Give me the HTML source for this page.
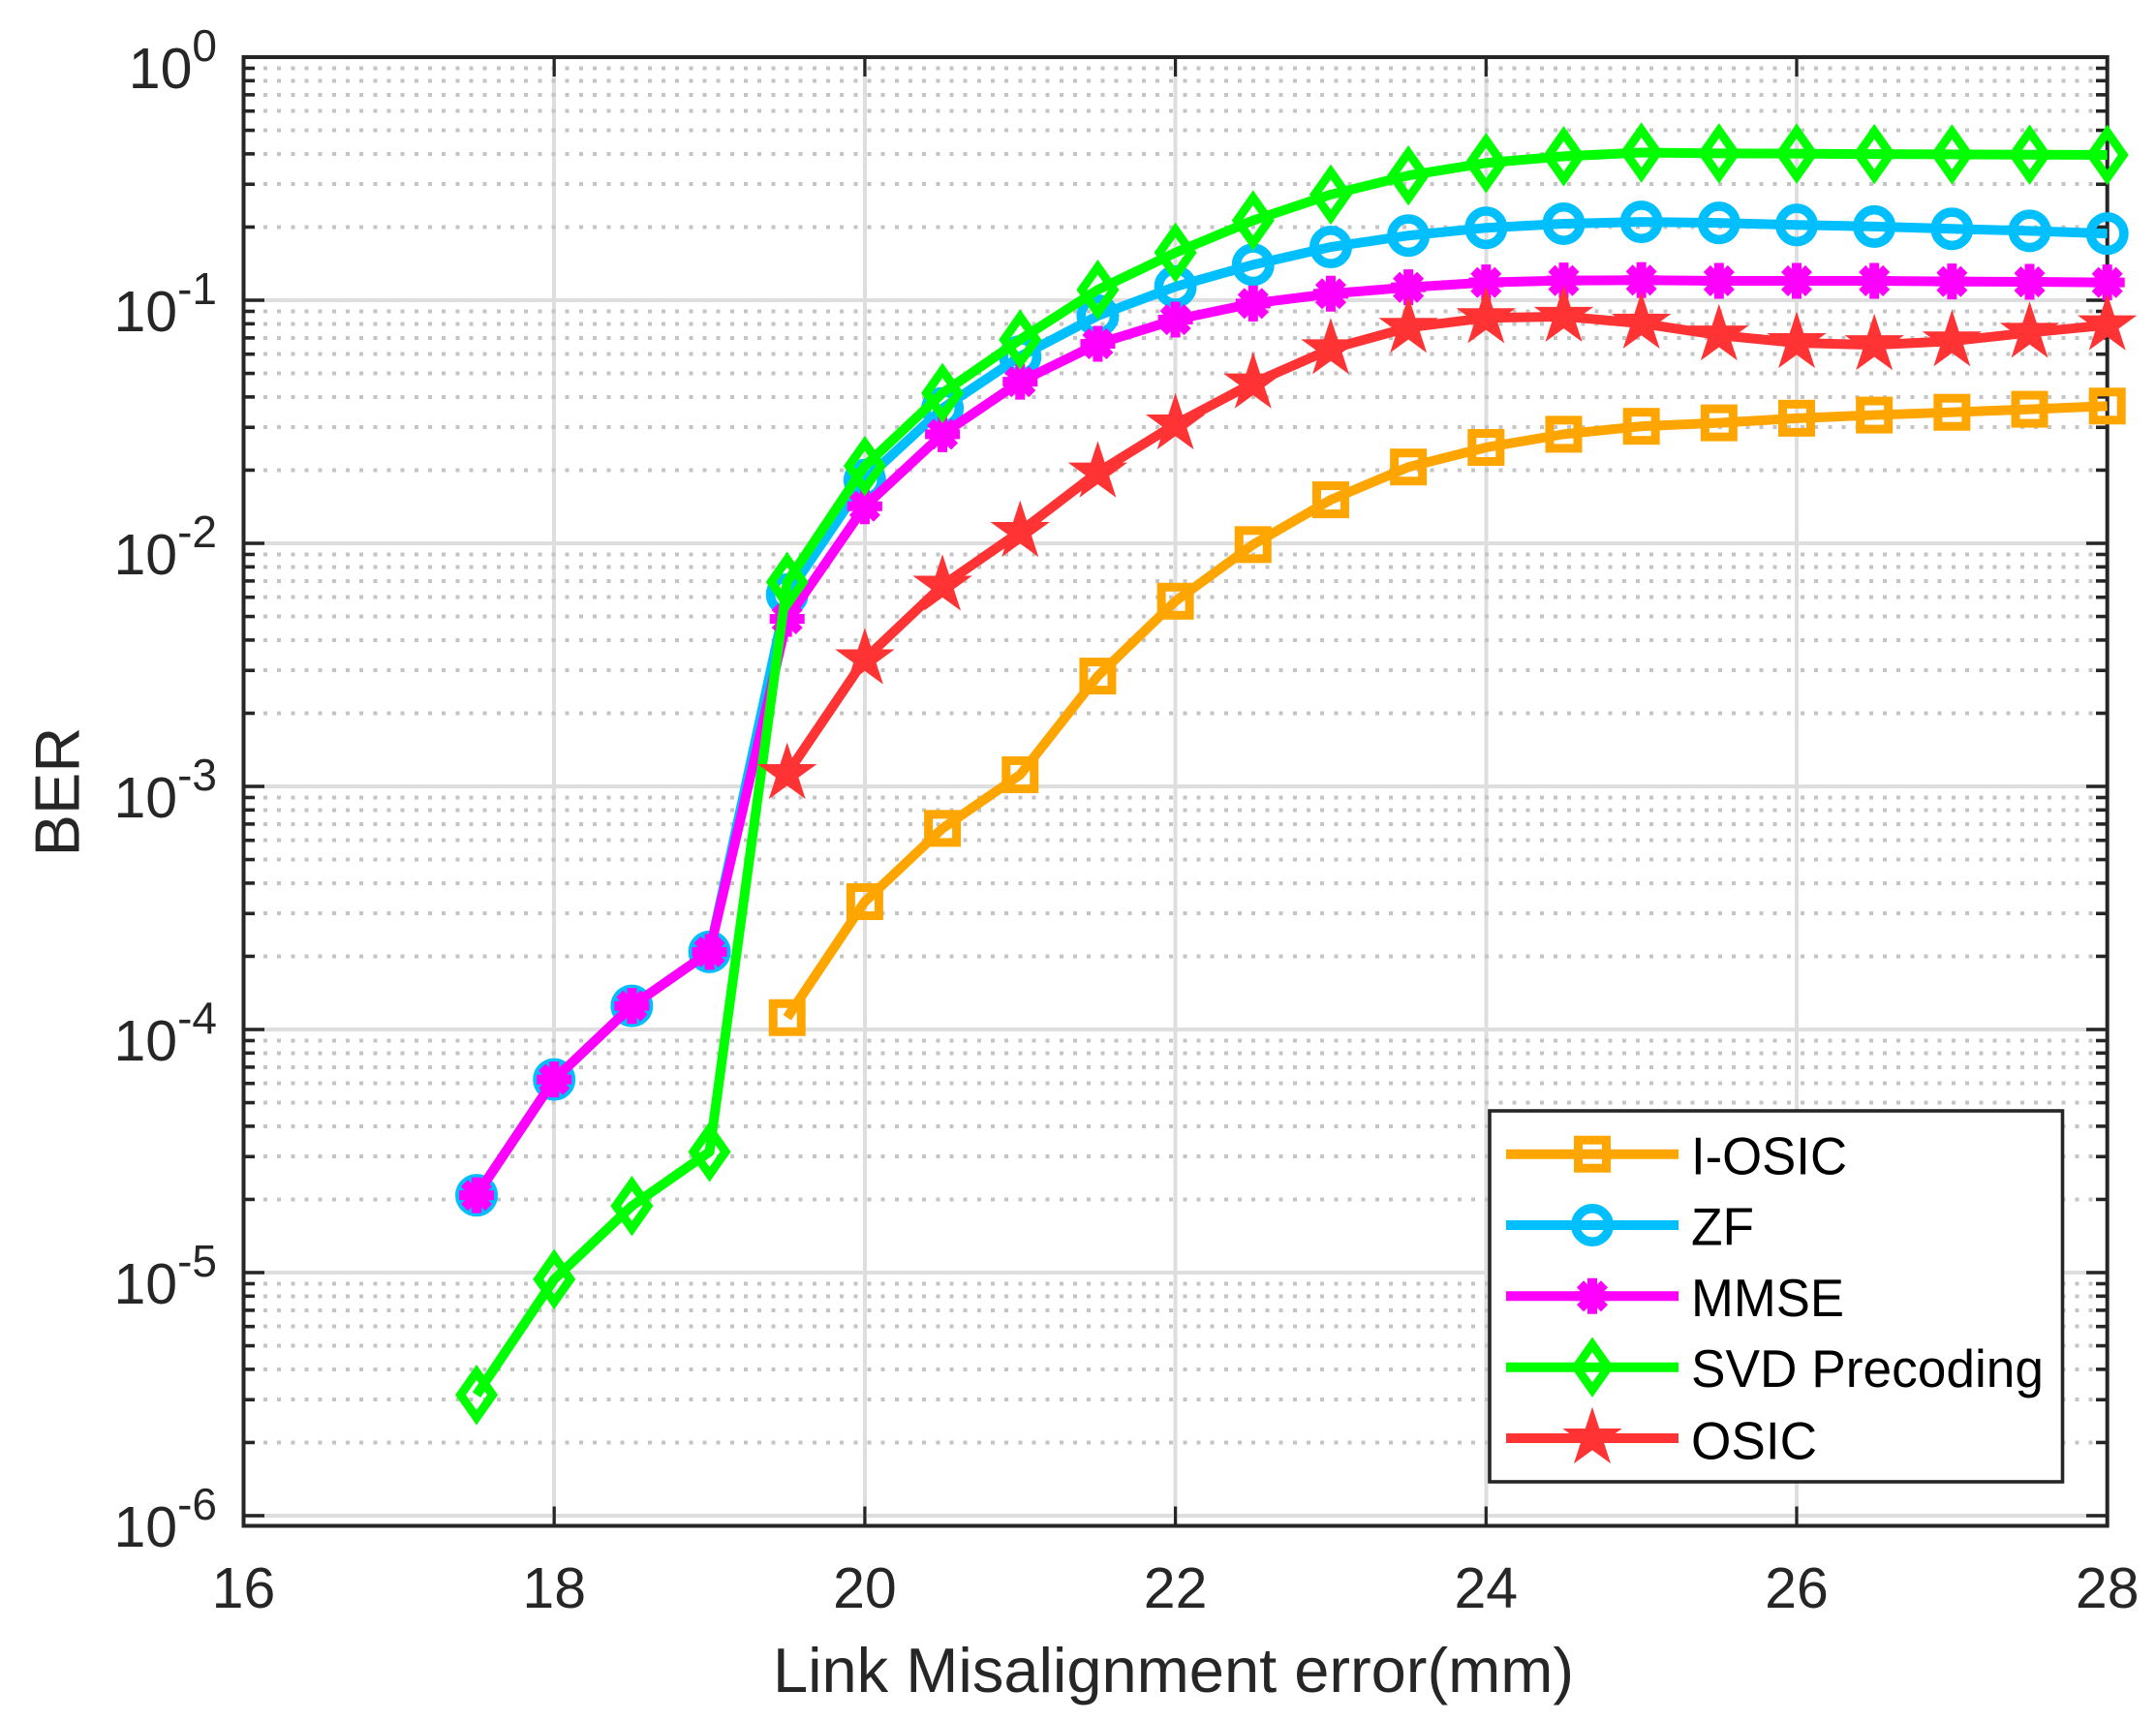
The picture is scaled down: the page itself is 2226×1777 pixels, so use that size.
<!DOCTYPE html>
<html lang="en">
<head>
<meta charset="utf-8">
<title>BER vs Link Misalignment error</title>
<style>
  html, body { margin: 0; padding: 0; background: #ffffff; }
  svg { display: block; font-family: "Liberation Sans", Arial, sans-serif; }
</style>
</head>
<body>
<svg id="chart" xmlns="http://www.w3.org/2000/svg" width="2226" height="1777" viewBox="0 0 2226 1777">
  <rect x="0" y="0" width="2226" height="1777" fill="#ffffff"/>
  <g id="grid" shape-rendering="crispEdges"></g>
  <g id="axes"></g>
  <g id="series"></g>
  <text x="1211.5" y="1747" font-size="65" fill="#262626" text-anchor="middle">Link Misalignment error(mm)</text>
  <text transform="translate(81.7 817.5) rotate(-90)" font-size="65" fill="#262626" text-anchor="middle">BER</text>
  <g id="legend">
    <rect x="1538" y="1147" width="591.5" height="383" fill="#ffffff" stroke="#262626" stroke-width="3.6"/>
    <text x="1746" y="1212.7" font-size="55" fill="#000000" textLength="161" lengthAdjust="spacingAndGlyphs">I-OSIC</text>
    <text x="1746" y="1285.7" font-size="55" fill="#000000" textLength="65" lengthAdjust="spacingAndGlyphs">ZF</text>
    <text x="1746" y="1359" font-size="55" fill="#000000" textLength="158" lengthAdjust="spacingAndGlyphs">MMSE</text>
    <text x="1746" y="1432" font-size="55" fill="#000000" textLength="364" lengthAdjust="spacingAndGlyphs">SVD Precoding</text>
    <text x="1746" y="1506.7" font-size="55" fill="#000000" textLength="130" lengthAdjust="spacingAndGlyphs">OSIC</text>
  </g>
</svg>
<script>
// ---- chart data ----
const xFull = [17.5, 18, 18.5, 19, 19.5, 20, 20.5, 21, 21.5, 22, 22.5, 23, 23.5, 24, 24.5, 25, 25.5, 26, 26.5, 27, 27.5, 28];
const xLate = [19.5, 20, 20.5, 21, 21.5, 22, 22.5, 23, 23.5, 24, 24.5, 25, 25.5, 26, 26.5, 27, 27.5, 28];
const iOsicValues = [1.119e-4, 3.357e-4, 6.72e-4, 1.117e-3, 2.844e-3, 5.78e-3, 9.88e-3, 1.51e-2, 2.06e-2, 2.48e-2, 2.81e-2, 3.03e-2, 3.13e-2, 3.27e-2, 3.37e-2, 3.46e-2, 3.56e-2, 3.67e-2];
const zfValues = [2.08e-5, 6.23e-5, 1.251e-4, 2.086e-4, 6.15e-3, 1.82e-2, 3.59e-2, 5.87e-2, 8.63e-2, 1.138e-1, 1.40e-1, 1.656e-1, 1.845e-1, 1.986e-1, 2.065e-1, 2.10e-1, 2.08e-1, 2.04e-1, 2.01e-1, 1.967e-1, 1.93e-1, 1.88e-1];
const mmseValues = [2.08e-5, 6.23e-5, 1.251e-4, 2.086e-4, 4.89e-3, 1.42e-2, 2.81e-2, 4.62e-2, 6.62e-2, 8.32e-2, 9.70e-2, 1.064e-1, 1.13e-1, 1.183e-1, 1.205e-1, 1.209e-1, 1.202e-1, 1.202e-1, 1.202e-1, 1.194e-1, 1.19e-1, 1.183e-1];
const svdValues = [3.14e-6, 9.39e-6, 1.88e-5, 3.14e-5, 6.93e-3, 2.08e-2, 4.15e-2, 6.89e-2, 1.104e-1, 1.57e-1, 2.13e-1, 2.72e-1, 3.26e-1, 3.67e-1, 3.91e-1, 4.05e-1, 4.02e-1, 4.01e-1, 3.99e-1, 3.98e-1, 3.97e-1, 3.96e-1];
const osicValues = [1.127e-3, 3.34e-3, 6.71e-3, 1.117e-2, 1.96e-2, 3.09e-2, 4.56e-2, 6.30e-2, 7.72e-2, 8.46e-2, 8.57e-2, 8.03e-2, 7.18e-2, 6.68e-2, 6.55e-2, 6.79e-2, 7.36e-2, 7.91e-2];
const xTickLabels = [16, 18, 20, 22, 24, 26, 28];
const yTickExponents = [0, -1, -2, -3, -4, -5, -6];
const yMinorMultipliers = [2, 3, 4, 5, 6, 7, 8, 9];

// ---- axis functions ----
const plotLeft = 251.5, plotRight = 2175.7, plotTop = 59, plotBottom = 1575.5;
const xUnit = (plotRight - plotLeft) / (28 - 16);
const yDecade = 251;
function xScale(v) { return plotLeft + (v - 16) * xUnit; }
function yScale(v) { return plotTop - Math.log10(v) * yDecade; }

const NS = 'http://www.w3.org/2000/svg';
function make(tag, attrs, parent) {
  const el = document.createElementNS(NS, tag);
  for (const k in attrs) el.setAttribute(k, attrs[k]);
  parent.appendChild(el);
  return el;
}

const gridGroup = document.getElementById('grid');
const axesGroup = document.getElementById('axes');
const seriesGroup = document.getElementById('series');
const legendGroup = document.getElementById('legend');
const AXIS = '#262626';

// ---- grid ----
xTickLabels.forEach(function (t) {
  if (t === 16 || t === 28) return;
  const gl = make('line', { x1: xScale(t), x2: xScale(t), y1: plotTop, y2: plotBottom, stroke: '#dedede', 'stroke-width': 4 }, gridGroup);
  
  
});
yTickExponents.forEach(function (e) {
  const y = yScale(Math.pow(10, e));
  if (e !== 0) {
    const gl = make('line', { x1: plotLeft, x2: plotRight, y1: y, y2: y, stroke: '#dedede', 'stroke-width': 4 }, gridGroup);
    
    
  }
  if (e === 0) return;
  yMinorMultipliers.forEach(function (m) {
    const my = yScale(m * Math.pow(10, e));
    const ml = make('line', { x1: 272, x2: 2164, y1: my, y2: my, stroke: '#c4c4c4', 'stroke-width': 4, 'stroke-dasharray': '4 10.17' }, gridGroup);
    
    
  });
});

// ---- axes box, ticks, tick labels ----
const box = make('rect', { x: plotLeft, y: plotTop, width: plotRight - plotLeft, height: plotBottom - plotTop, fill: 'none', stroke: AXIS, 'stroke-width': 4 }, axesGroup);



xTickLabels.forEach(function (t) {
  const x = xScale(t);
  const b = make('line', { x1: x, x2: x, y1: plotBottom, y2: plotBottom - 20, stroke: AXIS, 'stroke-width': 3.2 }, axesGroup);
  
  
  const u = make('line', { x1: x, x2: x, y1: plotTop, y2: plotTop + 20, stroke: AXIS, 'stroke-width': 3.2 }, axesGroup);
  
  
  const label = make('text', { x: x, y: 1660, 'font-size': 59, fill: AXIS, 'text-anchor': 'middle' }, axesGroup);
  
  
  label.textContent = String(t);
});

yTickExponents.forEach(function (e) {
  const y = yScale(Math.pow(10, e));
  const l = make('line', { x1: plotLeft, x2: 273, y1: y, y2: y, stroke: AXIS, 'stroke-width': 3.6 }, axesGroup);
  
  
  const r = make('line', { x1: plotRight, x2: 2154, y1: y, y2: y, stroke: AXIS, 'stroke-width': 3.6 }, axesGroup);
  
  
  const label = make('text', { x: 224, y: y + 32, 'font-size': 59, fill: AXIS, 'text-anchor': 'end' }, axesGroup);
  
  
  label.appendChild(document.createTextNode('10'));
  const sup = make('tspan', { dy: -28, 'font-size': 46 }, label);
  sup.textContent = String(e);
  if (e === 0) return;
  yMinorMultipliers.forEach(function (m) {
    const my = yScale(m * Math.pow(10, e));
    const ml = make('line', { x1: plotLeft, x2: 263, y1: my, y2: my, stroke: AXIS, 'stroke-width': 3.6 }, axesGroup);
    
    
    const mr = make('line', { x1: plotRight, x2: 2164, y1: my, y2: my, stroke: AXIS, 'stroke-width': 3.6 }, axesGroup);
    
    
  });
});

// ---- markers ----
function drawMarker(kind, cx, cy, color, parent) {
  if (kind === 'square') {
    return make('rect', { x: cx - 14.5, y: cy - 14.5, width: 29, height: 29, fill: 'none', stroke: color, 'stroke-width': 9 }, parent);
  }
  if (kind === 'circle') {
    return make('circle', { cx: cx, cy: cy, r: 17.2, fill: 'none', stroke: color, 'stroke-width': 9.6 }, parent);
  }
  if (kind === 'diamond') {
    const a = 16.5, b = 23.4;
    return make('polygon', { points: (cx) + ',' + (cy - b) + ' ' + (cx + a) + ',' + cy + ' ' + cx + ',' + (cy + b) + ' ' + (cx - a) + ',' + cy, fill: 'none', stroke: color, 'stroke-width': 9, 'stroke-miterlimit': 10 }, parent);
  }
  if (kind === 'asterisk') {
    const p = 'M' + cx + ' ' + (cy - 18.5) + 'V' + (cy + 18.5) +
              'M' + (cx - 18) + ' ' + cy + 'H' + (cx + 18) +
              'M' + (cx - 12.5) + ' ' + (cy - 12.5) + 'L' + (cx + 12.5) + ' ' + (cy + 12.5) +
              'M' + (cx - 12.5) + ' ' + (cy + 12.5) + 'L' + (cx + 12.5) + ' ' + (cy - 12.5);
    return make('path', { d: p, fill: 'none', stroke: color, 'stroke-width': 10 }, parent);
  }
  // star
  const R = 32.3, r = R * 0.382;
  const pts = [];
  for (let i = 0; i < 10; i++) {
    const ang = -Math.PI / 2 + i * Math.PI / 5;
    const rad = i % 2 === 0 ? R : r;
    pts.push((cx + rad * Math.cos(ang)).toFixed(2) + ',' + (cy + rad * Math.sin(ang)).toFixed(2));
  }
  return make('polygon', { points: pts.join(' '), fill: color }, parent);
}

// ---- series ----
function drawSeries(slug, xs, ys, color, kind) {
  const g = make('g', {}, seriesGroup);
  
  
  const pts = xs.map(function (x, i) { return xScale(x).toFixed(2) + ',' + yScale(ys[i]).toFixed(2); }).join(' ');
  const line = make('polyline', { points: pts, fill: 'none', stroke: color, 'stroke-width': 10, 'stroke-linejoin': 'round' }, g);
  
  
  xs.forEach(function (x, i) {
    const m = drawMarker(kind, xScale(x), yScale(ys[i]), color, g);
    
    
  });
}
drawSeries('i-osic', xLate, iOsicValues, '#ffa500', 'square');
drawSeries('zf', xFull, zfValues, '#00bfff', 'circle');
drawSeries('mmse', xFull, mmseValues, '#ff00ff', 'asterisk');
drawSeries('svd-precoding', xFull, svdValues, '#00ff00', 'diamond');
drawSeries('osic', xLate, osicValues, '#ff3333', 'star');

// ---- legend swatches ----
function drawLegendSwatch(slug, y, color, kind) {
  const line = make('line', { x1: 1555, x2: 1733, y1: y, y2: y, stroke: color, 'stroke-width': 10 }, legendGroup);
  
  
  const m = drawMarker(kind, 1644, y, color, legendGroup);
  
  
}
drawLegendSwatch('i-osic', 1191.7, '#ffa500', 'square');
drawLegendSwatch('zf', 1265, '#00bfff', 'circle');
drawLegendSwatch('mmse', 1338.3, '#ff00ff', 'asterisk');
drawLegendSwatch('svd-precoding', 1411.7, '#00ff00', 'diamond');
drawLegendSwatch('osic', 1485, '#ff3333', 'star');
</script>
</body>
</html>
